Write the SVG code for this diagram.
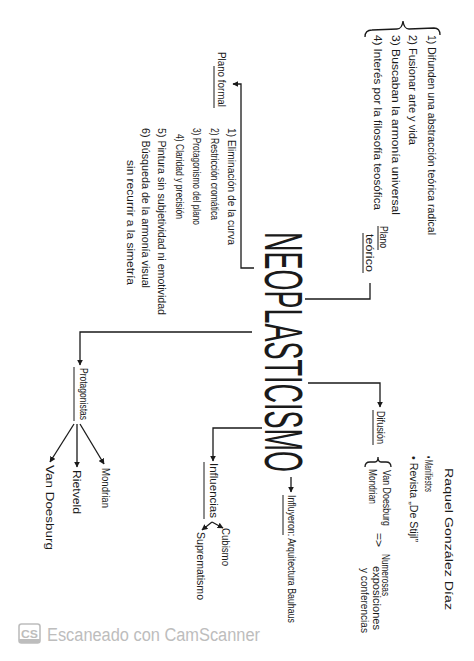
<svg xmlns="http://www.w3.org/2000/svg" width="474" height="661" viewBox="0 0 474 661">
<defs>
<marker id="ah" viewBox="0 0 10 10" refX="9" refY="5" markerWidth="6" markerHeight="6" markerUnits="userSpaceOnUse" orient="auto">
<path d="M0,0 L10,5 L0,10 Z" fill="#1a1a1a"/>
</marker>
<style>
.t{font-family:"Liberation Sans Narrow","Liberation Sans",sans-serif;font-size:10px;fill:#1a1a1a}
.big{font-family:"Liberation Sans Narrow","Liberation Sans",sans-serif;font-size:54px;fill:#1a1a1a}
.ln{fill:none;stroke:#1a1a1a;stroke-width:1.3}
.ul{stroke:#1a1a1a;stroke-width:1}
.wm{font-family:"Liberation Sans",Arial,sans-serif;fill:#bdbdbd}
</style>
</defs>
<rect width="474" height="661" fill="#ffffff"/>

<g id="connectors">
<polyline class="ln" points="305,299 370,299 370,283"/>
<polyline class="ln" points="254,268 241,268 241,84 233,84" marker-end="url(#ah)"/>
<polyline class="ln" points="252,332 80,332 80,365" marker-end="url(#ah)"/>
<polyline class="ln" points="308,383 380,383 380,407" marker-end="url(#ah)"/>
<polyline class="ln" points="262,428 213,428 213,461" marker-end="url(#ah)"/>
<line class="ln" x1="291" y1="477" x2="291" y2="492" marker-end="url(#ah)"/>
<line class="ln" x1="80" y1="424" x2="104" y2="464" marker-end="url(#ah)"/>
<line class="ln" x1="77" y1="424" x2="77" y2="467" marker-end="url(#ah)"/>
<line class="ln" x1="74" y1="424" x2="50" y2="462" marker-end="url(#ah)"/>
<line class="ln" x1="212" y1="522" x2="223" y2="528" marker-end="url(#ah)"/>
<line class="ln" x1="212" y1="522" x2="202" y2="530" marker-end="url(#ah)"/>
</g>

<g id="neoplasticismo">
<text class="big" transform="translate(265,232) rotate(90)" textLength="240" lengthAdjust="spacingAndGlyphs">NEOPLASTICISMO</text>
</g>

<g id="plano-teorico-lista">
<path class="ln" d="M365,37 Q365,30 372,30 L397,29 Q402,29 403,21 Q404,29 409,29 L434,28 Q440,28 440,35"/>
<text class="t" transform="translate(428,35) rotate(90)" textLength="200" lengthAdjust="spacingAndGlyphs">1) Difunden una abstracción teórica radical</text>
<text class="t" transform="translate(409,35) rotate(90)" textLength="110" lengthAdjust="spacingAndGlyphs">2) Fusionar arte y vida</text>
<text class="t" transform="translate(392,35) rotate(90)" textLength="180" lengthAdjust="spacingAndGlyphs">3) Buscaban la armonía universal</text>
<text class="t" transform="translate(374,35) rotate(90)" textLength="175" lengthAdjust="spacingAndGlyphs">4) Interés por la filosofía teosófica</text>
</g>

<g id="plano-teorico">
<text class="t" transform="translate(380,226) rotate(90)" textLength="22" lengthAdjust="spacingAndGlyphs">Plano</text>
<line class="ul" x1="378" y1="226" x2="378" y2="250"/>
<text class="t" transform="translate(366,234) rotate(90)" textLength="38" lengthAdjust="spacingAndGlyphs">teórico</text>
<line class="ul" x1="363" y1="233" x2="363" y2="273"/>
</g>

<g id="plano-formal">
<text class="t" transform="translate(218,52) rotate(90)" textLength="55" lengthAdjust="spacingAndGlyphs">Plano formal</text>
<line class="ul" x1="214" y1="66" x2="214" y2="108"/>
</g>

<g id="plano-formal-lista">
<text class="t" transform="translate(228,128) rotate(90)" textLength="117" lengthAdjust="spacingAndGlyphs">1) Eliminación de la curva</text>
<text class="t" transform="translate(211,128) rotate(90)" textLength="92" lengthAdjust="spacingAndGlyphs">2) Restricción cromática</text>
<text class="t" transform="translate(193,128) rotate(90)" textLength="97" lengthAdjust="spacingAndGlyphs">3) Protagonismo del plano</text>
<text class="t" transform="translate(176,134) rotate(90)" textLength="85" lengthAdjust="spacingAndGlyphs">4) Claridad y precisión</text>
<text class="t" transform="translate(158,128) rotate(90)" textLength="187" lengthAdjust="spacingAndGlyphs">5) Pintura sin subjetividad ni emotividad</text>
<text class="t" transform="translate(142,128) rotate(90)" textLength="160" lengthAdjust="spacingAndGlyphs">6) Búsqueda de la armonía visual</text>
<text class="t" transform="translate(127,160) rotate(90)" textLength="125" lengthAdjust="spacingAndGlyphs">sin recurrir a la simetría</text>
</g>

<g id="protagonistas">
<text class="t" transform="translate(80,368) rotate(90)" textLength="52" lengthAdjust="spacingAndGlyphs">Protagonistas</text>
<line class="ul" x1="74" y1="367" x2="74" y2="421"/>
</g>
<g id="mondrian">
<text class="t" transform="translate(102,468) rotate(90)" textLength="40" lengthAdjust="spacingAndGlyphs">Mondrian</text>
</g>
<g id="rietveld">
<text class="t" transform="translate(73,470) rotate(90)" textLength="44" lengthAdjust="spacingAndGlyphs">Rietveld</text>
</g>
<g id="van-doesburg">
<text class="t" transform="translate(46,465) rotate(90)" textLength="85" lengthAdjust="spacingAndGlyphs">Van Doesburg</text>
</g>

<g id="difusion">
<text class="t" transform="translate(377,411) rotate(90)" textLength="33" lengthAdjust="spacingAndGlyphs">Difusión</text>
<line class="ul" x1="373" y1="410" x2="373" y2="445"/>
</g>
<g id="difusion-detalle">
<text class="t" transform="translate(425,456) rotate(90)" textLength="36" lengthAdjust="spacingAndGlyphs">• Manifiestos</text>
<text class="t" transform="translate(410,456) rotate(90)" textLength="86" lengthAdjust="spacingAndGlyphs">• Revista „De Stijl”</text>
<path class="ln" d="M365,467 Q365,462 370,462 L375,462 Q378,462 378,457 Q378,462 381,462 L386,462 Q391,462 391,467"/>
<text class="t" transform="translate(383,470) rotate(90)" textLength="56" lengthAdjust="spacingAndGlyphs">Van Doesburg</text>
<text class="t" transform="translate(369,469) rotate(90)" textLength="35" lengthAdjust="spacingAndGlyphs">Mondrian</text>
<text class="t" transform="translate(375,533) rotate(90)" textLength="14" lengthAdjust="spacingAndGlyphs">=&gt;</text>
<text class="t" transform="translate(382,554) rotate(90)" textLength="42" lengthAdjust="spacingAndGlyphs">Numerosas</text>
<text class="t" transform="translate(373,566) rotate(90)" textLength="64" lengthAdjust="spacingAndGlyphs">exposiciones</text>
<text class="t" transform="translate(361,568) rotate(90)" textLength="65" lengthAdjust="spacingAndGlyphs">y conferencias</text>
</g>

<g id="influyeron">
<text class="t" transform="translate(288,495) rotate(90)" textLength="128" lengthAdjust="spacingAndGlyphs">Influyeron: Arquitectura Bauhaus</text>
<line class="ul" x1="283" y1="495" x2="283" y2="535"/>
</g>

<g id="influencias">
<text class="t" transform="translate(210,463) rotate(90)" textLength="55" lengthAdjust="spacingAndGlyphs">Influencias</text>
<line class="ul" x1="204" y1="462" x2="204" y2="519"/>
</g>
<g id="cubismo">
<text class="t" transform="translate(222,528) rotate(90)" textLength="38" lengthAdjust="spacingAndGlyphs">Cubismo</text>
</g>
<g id="suprematismo">
<text class="t" transform="translate(197,532) rotate(90)" textLength="68" lengthAdjust="spacingAndGlyphs">Suprematismo</text>
</g>

<g id="autora">
<text class="t" transform="translate(445,468) rotate(90)" textLength="142" lengthAdjust="spacingAndGlyphs">Raquel González Díaz</text>
</g>

<g id="watermark">
<rect x="19" y="624" width="21" height="19" rx="2.5" fill="none" stroke="#bdbdbd" stroke-width="1.6"/>
<rect x="19" y="639" width="21" height="4" fill="#bdbdbd"/>
<text class="wm" x="21" y="637.5" font-size="10" font-weight="bold" textLength="17" lengthAdjust="spacingAndGlyphs">CS</text>
<text class="wm" x="47" y="641" font-size="18" textLength="213" lengthAdjust="spacingAndGlyphs">Escaneado con CamScanner</text>
</g>
</svg>
